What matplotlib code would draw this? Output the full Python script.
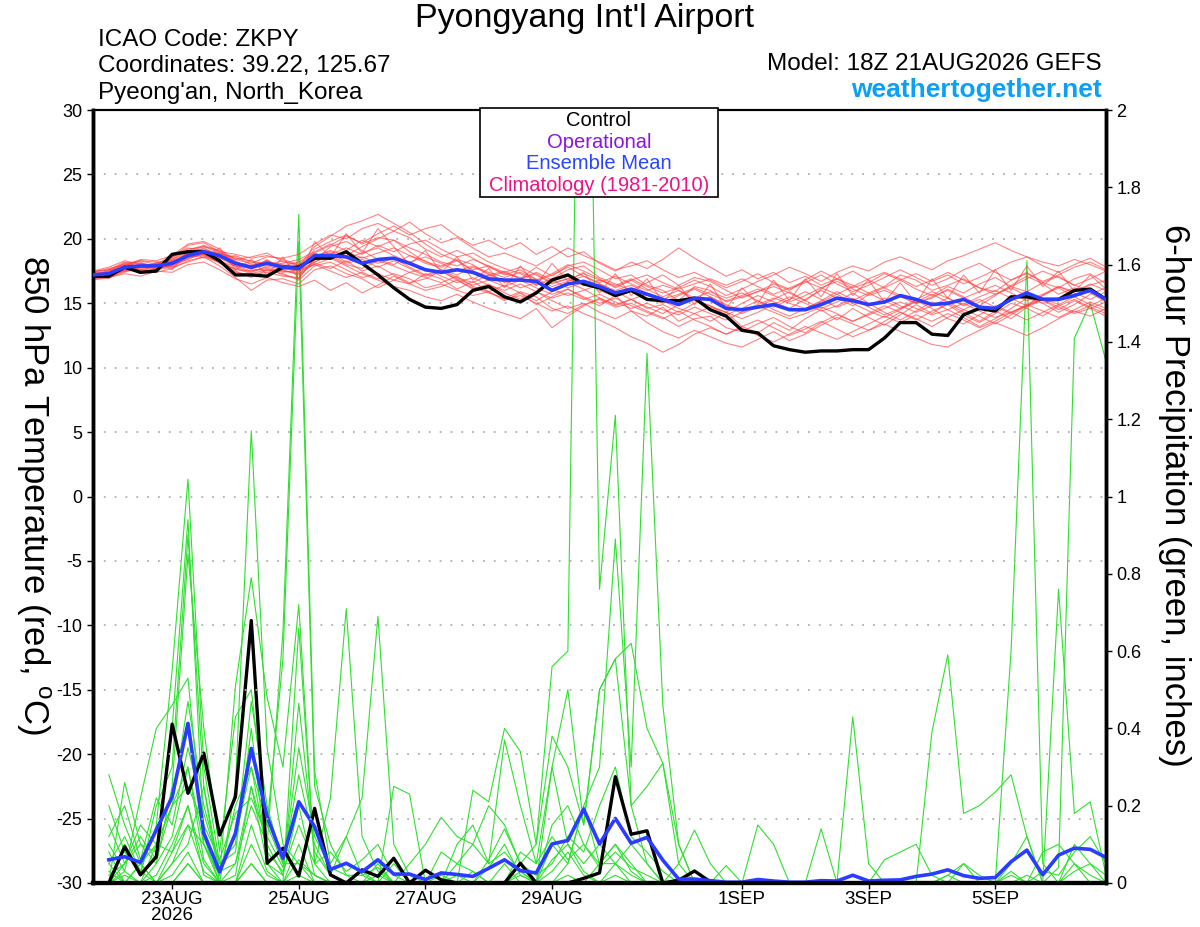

# GEFS meteogram: 850 hPa temperature and 6-hour precipitation, Pyongyang

import pandas as pd
import matplotlib
import matplotlib.pyplot as plt
from matplotlib.ticker import FuncFormatter, MultipleLocator
from matplotlib.patches import Rectangle

plt.rcParams['font.family'] = ['Liberation Sans', 'DejaVu Sans']
plt.rcParams['mathtext.fontset'] = 'custom'
plt.rcParams['mathtext.rm'] = 'Liberation Sans'
plt.rcParams['axes.unicode_minus'] = False

# 6-hourly valid times, 21AUG 18Z .. 6SEP 18Z
times = pd.date_range('2026-08-21 18:00', periods=65, freq='6h')
precip_times = times[1:]

# 850 hPa temperature (C)
temp_control = [17.1, 17.1, 17.8, 17.4, 17.5, 18.8, 19.0, 19.0, 18.3, 17.2, 17.2, 17.1, 17.8,
                17.8, 18.5, 18.5, 19.0, 18.1, 17.2, 16.2, 15.3, 14.7, 14.6, 14.9, 16.0, 16.3,
                15.5, 15.1, 15.8, 16.8, 17.2, 16.5, 16.2, 15.6, 16.0, 15.3, 15.2, 15.2, 15.4,
                14.5, 14.0, 12.9, 12.7, 11.7, 11.4, 11.2, 11.3, 11.3, 11.4, 11.4, 12.3, 13.5,
                13.5, 12.6, 12.5, 14.1, 14.6, 14.4, 15.5, 15.5, 15.3, 15.3, 16.0, 16.1, 15.3]
temp_mean = [17.2, 17.3, 17.8, 17.9, 17.9, 18.1, 18.7, 19.0, 18.7, 18.1, 17.8, 18.1, 17.8,
             17.7, 18.7, 18.7, 18.6, 18.1, 18.4, 18.5, 18.1, 17.6, 17.4, 17.6, 17.4, 16.9,
             16.8, 16.8, 16.7, 16.0, 16.5, 16.7, 16.3, 15.8, 16.1, 15.7, 15.3, 14.9, 15.4,
             15.3, 14.6, 14.5, 14.7, 14.9, 14.5, 14.5, 14.9, 15.4, 15.2, 14.9, 15.1, 15.6,
             15.3, 14.9, 15.0, 15.3, 14.7, 14.6, 15.3, 15.8, 15.3, 15.3, 15.6, 16.0, 15.3]

temp_members = [
    [17.0, 17.4, 18.1, 18.2, 17.6, 18.4, 19.2, 19.4, 18.9, 18.3, 17.6, 18.4, 17.5,
     17.4, 19.2, 19.8, 20.3, 19.6, 20.1, 19.9, 19.0, 18.2, 17.9, 18.4, 18.0, 17.2,
     17.5, 16.9, 17.8, 17.1, 17.9, 18.2, 17.6, 16.9, 17.2, 16.4, 16.0, 15.2, 16.3,
     16.0, 15.1, 15.5, 15.9, 16.3, 15.8, 15.2, 16.1, 16.9, 16.4, 15.8, 16.3, 17.2,
     16.8, 16.0, 16.4, 16.9, 16.2, 15.9, 16.8, 17.4, 16.6, 16.2, 16.9, 17.3, 16.5],
    [17.3, 17.1, 17.6, 17.7, 18.0, 17.8, 18.5, 18.8, 18.4, 17.5, 17.0, 17.6, 17.3,
     16.8, 17.9, 18.2, 17.6, 17.0, 17.3, 16.8, 16.5, 16.0, 16.3, 16.8, 16.2, 15.8,
     15.4, 15.9, 15.5, 14.6, 14.2, 14.9, 15.3, 14.7, 15.0, 14.4, 13.9, 13.2, 13.8,
     14.0, 13.1, 12.8, 13.4, 13.9, 13.2, 12.7, 13.5, 14.1, 13.6, 14.2, 14.8, 14.3,
     13.7, 14.4, 14.9, 14.1, 13.5, 14.2, 15.0, 14.6, 14.0, 14.8, 15.3, 14.7, 14.2],
    [17.4, 17.6, 18.2, 17.8, 18.1, 18.6, 19.3, 19.1, 18.5, 18.7, 18.2, 18.0, 18.3,
     17.9, 19.4, 20.2, 21.0, 21.4, 21.9, 21.2, 20.5, 19.6, 18.8, 18.3, 17.6, 17.9,
     17.2, 17.6, 16.8, 17.3, 18.0, 17.5, 16.9, 16.2, 16.8, 16.1, 15.5, 16.0, 15.2,
     14.8, 14.3, 15.0, 15.6, 15.1, 14.6, 15.3, 16.0, 15.4, 14.8, 15.7, 16.2, 15.6,
     15.0, 15.4, 16.1, 15.5, 14.8, 15.6, 16.4, 17.1, 16.5, 15.7, 16.2, 15.8, 15.1],
    [17.0, 17.2, 17.5, 17.6, 17.4, 17.7, 18.3, 18.6, 17.9, 17.0, 16.0, 16.8, 16.9,
     16.5, 17.6, 17.9, 17.3, 16.9, 16.2, 16.8, 17.4, 17.0, 16.6, 17.1, 16.3, 15.9,
     16.4, 15.8, 15.2, 15.9, 16.6, 16.1, 15.4, 14.8, 15.3, 14.6, 14.9, 14.3, 15.0,
     15.5, 14.8, 14.2, 14.7, 15.3, 15.9, 15.2, 14.6, 15.1, 15.8, 15.0, 14.3, 13.7,
     14.4, 15.1, 14.5, 13.9, 13.2, 13.8, 14.6, 15.4, 15.0, 14.3, 14.9, 15.7, 16.2],
    [17.5, 17.8, 18.3, 18.0, 17.8, 18.5, 19.5, 19.7, 19.0, 18.4, 18.6, 18.9, 18.2,
     18.0, 18.6, 19.1, 18.7, 19.4, 20.0, 20.6, 20.1, 19.2, 18.6, 19.1, 18.5, 17.8,
     17.3, 17.0, 16.4, 16.9, 17.6, 17.9, 17.0, 16.5, 16.0, 16.6, 17.2, 16.4, 17.0,
     16.7, 16.0, 15.4, 15.9, 16.5, 16.0, 16.8, 17.5, 16.9, 16.2, 16.6, 17.3, 16.8,
     16.1, 15.6, 16.3, 15.8, 16.5, 17.0, 16.3, 15.9, 16.6, 17.1, 16.4, 16.0, 15.4],
    [16.9, 17.0, 17.4, 17.9, 17.7, 18.0, 18.4, 18.9, 18.8, 17.8, 17.4, 17.9, 17.6,
     17.2, 18.1, 17.7, 18.3, 17.5, 17.9, 17.2, 16.6, 16.9, 17.5, 16.8, 16.1, 16.5,
     15.8, 15.3, 15.9, 15.2, 14.6, 15.0, 14.3, 13.8, 14.4, 13.5, 12.8, 12.3, 12.9,
     12.4, 11.9, 11.6, 12.2, 12.8, 12.1, 12.6, 13.3, 13.9, 13.4, 12.9, 13.6, 14.3,
     13.8, 13.2, 13.9, 14.5, 14.0, 13.4, 14.1, 14.8, 15.3, 14.7, 14.2, 14.6, 14.0],
    [17.2, 17.5, 17.9, 18.3, 18.2, 18.3, 18.9, 19.2, 18.8, 18.6, 18.0, 18.2, 17.9,
     18.2, 18.9, 18.4, 19.0, 18.5, 18.9, 19.3, 18.7, 18.1, 17.8, 18.3, 17.5, 17.1,
     17.4, 16.9, 17.3, 16.6, 16.9, 17.3, 16.8, 16.4, 16.9, 16.3, 15.8, 16.2, 16.8,
     16.3, 15.6, 16.1, 16.7, 17.2, 17.8, 17.3, 16.7, 17.4, 17.9, 17.5, 18.2, 18.6,
     18.1, 17.6, 18.3, 18.7, 19.2, 19.7, 19.1, 18.6, 18.2, 17.9, 18.4, 18.0, 17.5],
    [17.1, 17.3, 17.7, 17.6, 18.0, 18.2, 18.6, 18.7, 18.2, 17.9, 17.7, 17.5, 17.6,
     17.9, 18.3, 19.4, 19.8, 19.1, 18.4, 18.0, 18.7, 18.3, 17.6, 17.2, 17.8, 17.3,
     16.6, 16.9, 17.4, 16.8, 16.2, 16.6, 16.0, 15.5, 15.9, 15.4, 15.0, 15.6, 16.1,
     15.5, 14.9, 14.4, 14.9, 15.4, 15.0, 14.6, 15.2, 15.9, 15.3, 14.8, 15.4, 14.8,
     14.3, 14.8, 15.4, 14.9, 15.5, 16.0, 15.4, 14.8, 15.6, 16.3, 15.8, 15.3, 15.9],
    [17.4, 17.2, 17.6, 18.1, 17.9, 17.9, 18.8, 19.3, 18.6, 18.0, 17.8, 18.3, 17.7,
     17.5, 18.0, 18.5, 17.9, 17.3, 16.8, 16.3, 16.0, 15.5, 15.2, 15.7, 15.1, 14.6,
     14.2, 13.8, 14.6, 13.1, 14.0, 14.8, 15.4, 14.9, 15.3, 14.7, 14.2, 14.9, 15.3,
     14.8, 14.1, 14.6, 15.2, 14.5, 14.0, 14.6, 15.1, 15.7, 15.0, 14.4, 13.9, 14.5,
     15.2, 14.6, 13.8, 13.4, 14.1, 14.8, 14.3, 13.7, 14.3, 14.9, 15.5, 16.1, 15.4],
    [17.0, 17.6, 17.9, 18.4, 18.3, 18.7, 19.6, 19.8, 19.2, 18.4, 18.1, 18.6, 18.5,
     18.8, 19.6, 20.3, 20.0, 20.8, 21.2, 20.6, 21.3, 20.4, 19.7, 20.1, 19.3, 18.6,
     18.9, 18.4, 17.9, 18.6, 19.3, 18.7, 18.2, 17.6, 17.9, 18.3, 17.6, 17.0, 17.4,
     16.8, 16.2, 16.7, 17.3, 16.6, 16.1, 16.6, 17.2, 16.5, 15.9, 16.4, 17.0, 17.6,
     17.0, 16.4, 16.9, 17.6, 18.1, 17.4, 16.8, 17.3, 16.7, 17.2, 17.8, 18.2, 17.6],
    [17.3, 17.4, 17.8, 17.5, 17.6, 18.1, 18.9, 18.8, 18.3, 17.6, 17.5, 17.7, 17.2,
     16.9, 18.5, 18.9, 18.2, 18.6, 18.1, 18.5, 17.8, 17.2, 17.6, 17.0, 16.6, 17.2,
     16.8, 16.2, 16.6, 16.1, 15.6, 16.0, 16.5, 15.9, 15.3, 15.7, 15.2, 14.6, 14.2,
     14.7, 14.3, 13.8, 14.3, 14.9, 15.5, 15.0, 14.4, 14.8, 15.4, 14.7, 14.1, 14.6,
     15.3, 15.9, 15.4, 14.8, 15.3, 14.7, 14.2, 14.9, 15.6, 16.2, 15.5, 14.9, 14.4],
    [17.2, 17.0, 17.5, 17.8, 18.1, 18.4, 19.0, 19.4, 19.1, 18.2, 17.9, 18.1, 18.0,
     17.6, 18.2, 18.8, 19.3, 18.8, 19.5, 19.0, 19.6, 19.9, 19.2, 18.6, 18.9, 18.2,
     17.7, 17.3, 16.7, 17.2, 17.8, 17.1, 16.6, 17.1, 16.5, 16.0, 16.4, 16.0, 15.4,
     15.9, 15.4, 15.8, 15.2, 14.7, 15.3, 15.9, 15.3, 14.7, 15.2, 15.8, 15.2, 14.6,
     15.1, 15.7, 15.1, 14.5, 15.1, 15.7, 16.2, 15.6, 15.0, 15.4, 15.9, 16.4, 16.8],
    [17.1, 17.3, 17.6, 17.8, 17.7, 17.9, 18.5, 18.9, 18.5, 17.9, 17.5, 17.8, 17.4,
     17.6, 18.0, 17.5, 17.0, 17.4, 16.9, 17.3, 16.9, 16.2, 16.5, 16.0, 15.6, 15.9,
     15.3, 15.6, 15.0, 14.4, 14.8, 14.2, 13.7, 13.1, 12.4, 11.9, 11.2, 11.8, 12.6,
     13.1, 12.6, 13.2, 13.7, 13.1, 12.5, 13.0, 13.6, 13.0, 12.4, 12.9, 13.4, 12.8,
     12.3, 11.8, 11.6, 12.3, 12.9, 13.5, 13.0, 12.5, 13.1, 13.8, 14.4, 14.0, 14.6],
    [17.4, 17.7, 18.0, 18.1, 17.9, 18.3, 18.7, 19.0, 18.9, 18.5, 18.3, 18.0, 18.1,
     18.4, 19.0, 19.6, 19.1, 19.9, 19.4, 19.9, 19.3, 18.8, 18.2, 17.9, 18.4, 17.9,
     17.4, 17.8, 17.2, 16.5, 16.9, 16.4, 16.8, 16.3, 16.8, 17.2, 16.6, 16.1, 16.5,
     16.9, 16.4, 16.9, 16.3, 15.7, 16.2, 16.7, 16.2, 15.7, 16.3, 16.9, 17.4, 16.9,
     16.3, 16.8, 17.4, 16.8, 16.2, 15.7, 16.3, 16.9, 17.5, 17.0, 16.4, 16.9, 17.5],
    [16.9, 17.1, 17.8, 17.6, 17.6, 17.8, 18.2, 18.6, 18.2, 17.4, 17.2, 17.4, 17.1,
     17.0, 18.4, 18.6, 18.0, 17.7, 18.3, 17.9, 17.4, 17.7, 17.1, 16.6, 17.0, 16.4,
     16.0, 16.5, 15.9, 15.4, 15.8, 15.3, 15.7, 15.1, 14.6, 15.0, 14.5, 14.1, 14.7,
     14.2, 13.7, 14.3, 14.8, 14.3, 13.8, 14.2, 14.7, 14.2, 13.6, 14.1, 14.6, 15.1,
     14.6, 14.1, 14.5, 15.0, 14.4, 13.9, 14.3, 14.8, 15.4, 14.9, 14.3, 14.8, 15.4],
    [17.3, 17.5, 18.0, 17.9, 18.0, 18.2, 18.8, 19.1, 18.6, 18.0, 17.9, 18.3, 17.9,
     17.8, 18.7, 19.0, 18.5, 18.9, 19.3, 18.7, 18.2, 18.6, 18.1, 17.5, 17.9, 17.4,
     17.0, 17.4, 16.9, 16.3, 16.7, 17.1, 16.5, 16.0, 16.4, 15.8, 15.3, 15.7, 16.2,
     15.7, 15.2, 15.6, 16.1, 15.6, 15.1, 15.6, 16.2, 16.7, 16.1, 15.6, 16.0, 15.5,
     15.0, 15.5, 16.0, 15.4, 15.9, 16.4, 15.8, 15.2, 15.7, 16.3, 15.9, 16.5, 16.0],
    [17.2, 16.9, 17.9, 17.3, 18.2, 17.6, 19.1, 18.5, 19.3, 17.6, 18.4, 17.2, 18.6,
     16.9, 19.8, 18.6, 20.4, 18.9, 20.8, 19.4, 18.0, 19.1, 17.4, 18.6, 16.8, 17.7,
     16.2, 17.9, 16.4, 18.1, 16.7, 17.4, 15.8, 17.3, 15.6, 16.9, 15.1, 16.4, 14.9,
     16.5, 14.6, 16.2, 15.0, 16.8, 15.2, 16.9, 15.5, 17.3, 15.6, 16.8, 15.1, 16.6,
     15.0, 16.9, 15.4, 17.2, 15.8, 17.6, 16.0, 17.9, 16.3, 17.5, 15.9, 17.2, 16.1],
    [16.8, 17.0, 17.3, 17.1, 17.5, 17.4, 18.0, 18.2, 17.6, 16.9, 16.5, 17.0, 16.6,
     16.3, 16.8, 16.0, 16.6, 15.8, 16.4, 17.1, 16.5, 17.3, 16.9, 16.1, 16.7, 15.9,
     15.2, 15.8, 14.9, 15.5, 16.1, 15.4, 14.8, 15.6, 14.4, 14.0, 14.7, 13.6, 14.2,
     13.6, 14.3, 13.2, 12.7, 13.5, 12.9, 13.8, 14.5, 13.7, 14.6, 13.9, 13.3, 14.1,
     14.9, 14.2, 15.0, 14.3, 13.6, 14.4, 13.8, 14.7, 15.3, 14.5, 15.2, 14.6, 15.1],
    [17.5, 17.6, 18.1, 18.3, 18.0, 18.6, 19.1, 19.5, 19.0, 18.8, 18.5, 18.7, 18.4,
     18.0, 18.9, 19.5, 20.2, 19.7, 20.4, 21.0, 20.3, 20.8, 21.1, 20.2, 19.5, 19.9,
     19.2, 19.7, 18.8, 19.4, 18.6, 19.0, 18.1, 17.5, 18.2, 17.7, 18.4, 19.3, 18.5,
     17.8, 17.1, 17.6, 16.9, 17.4, 16.6, 17.1, 16.4, 16.9, 17.5, 16.8, 16.2, 16.8,
     17.3, 16.7, 17.2, 16.5, 17.0, 17.6, 18.2, 18.6, 17.9, 17.4, 18.0, 18.5, 17.8],
    [17.0, 17.3, 17.5, 17.8, 17.6, 18.0, 18.6, 18.8, 18.1, 17.7, 17.3, 17.6, 17.5,
     17.3, 18.2, 18.7, 18.1, 18.4, 17.8, 18.3, 17.7, 17.1, 17.5, 16.9, 16.4, 16.8,
     16.3, 16.8, 16.2, 15.7, 16.1, 15.5, 15.0, 15.4, 14.8, 14.3, 13.8, 14.4, 13.7,
     13.2, 12.6, 13.1, 12.5, 12.0, 12.6, 13.2, 12.7, 12.2, 12.8, 13.4, 14.0, 13.5,
     14.1, 13.6, 14.2, 13.7, 13.1, 13.6, 14.3, 14.9, 14.4, 13.9, 14.5, 15.1, 14.6],
]

# 6-hour precipitation (inches), valid 22AUG 00Z .. 6SEP 18Z
precip_control = [0.0, 0.094, 0.021, 0.068, 0.411, 0.232, 0.336, 0.124, 0.223, 0.679, 0.051, 0.09, 0.018, 0.193, 0.021, 0.0,
                  0.034, 0.017, 0.064, 0.0, 0.033, 0.008, 0.0, 0.0, 0.0, 0.0, 0.051, 0.0, 0.0, 0.0, 0.012, 0.026,
                  0.275, 0.126, 0.135, 0.0, 0.007, 0.031, 0.003, 0.0, 0.0, 0.0, 0.0, 0.0, 0.0, 0.0, 0.0, 0.0,
                  0.0, 0.0, 0.0, 0.0, 0.0, 0.0, 0.0, 0.0, 0.0, 0.0, 0.0, 0.0, 0.0, 0.0, 0.0, 0.0]
precip_mean = [0.06, 0.068, 0.053, 0.137, 0.223, 0.413, 0.129, 0.029, 0.129, 0.348, 0.172, 0.064, 0.21, 0.146, 0.035, 0.051,
               0.029, 0.06, 0.023, 0.023, 0.009, 0.026, 0.022, 0.017, 0.038, 0.06, 0.032, 0.026, 0.101, 0.11, 0.191, 0.101,
               0.167, 0.103, 0.118, 0.059, 0.01, 0.01, 0.006, 0.002, 0.002, 0.009, 0.005, 0.002, 0.002, 0.006, 0.005, 0.02,
               0.005, 0.007, 0.008, 0.017, 0.023, 0.034, 0.019, 0.012, 0.014, 0.055, 0.085, 0.021, 0.072, 0.09, 0.087, 0.066]

Z16 = [0.0] * 16
precip_members = [
    [0.05, 0.12, 0.03, 0.15, 0.55, 1.045, 0.30, 0.05, 0.10, 0.47, 0.20, 0.05, 0.28, 0.10, 0.02, 0.0]
    + [0.03, 0.0, 0.05, 0.0, 0.0, 0.02, 0.0, 0.0, 0.04, 0.10, 0.02, 0.0, 0.06, 0.10, 0.03, 0.0]
    + [0.05, 0.02, 0.0, 0.0, 0.0, 0.0, 0.0, 0.0, 0.0, 0.0, 0.0, 0.0, 0.0, 0.0, 0.0, 0.0]
    + [0.0, 0.0, 0.0, 0.0, 0.0, 0.0, 0.0, 0.0, 0.0, 0.02, 0.0, 0.0, 0.0, 0.03, 0.05, 0.02],
    [0.02, 0.05, 0.10, 0.08, 0.40, 0.94, 0.12, 0.0, 0.25, 1.17, 0.35, 0.10, 0.05, 0.02, 0.0, 0.0]
    + [0.0, 0.02, 0.0, 0.0, 0.0, 0.0, 0.0, 0.03, 0.0, 0.0, 0.0, 0.0, 0.0, 0.02, 0.0, 0.05]
    + [0.10, 0.03, 0.0, 0.0, 0.0, 0.0, 0.0, 0.0, 0.0, 0.0, 0.0, 0.0, 0.0, 0.0, 0.0, 0.0]
    + [0.0, 0.0, 0.0, 0.0, 0.0, 0.02, 0.0, 0.0, 0.0, 0.0, 0.0, 0.0, 0.0, 0.0, 0.0, 0.0],
    [0.20, 0.08, 0.02, 0.20, 0.30, 0.90, 0.25, 0.03, 0.05, 0.25, 0.10, 0.65, 1.73, 0.29, 0.05, 0.12]
    + [0.02, 0.0, 0.0, 0.0, 0.0, 0.0, 0.0, 0.0, 0.0, 0.0, 0.0, 0.0, 0.03, 0.08, 0.02, 0.0]
    + Z16 + Z16,
    [0.0, 0.26, 0.10, 0.05, 0.25, 0.85, 0.40, 0.08, 0.43, 0.50, 0.15, 0.58, 1.66, 0.25, 0.10, 0.02]
    + [0.0, 0.05, 0.0, 0.0, 0.0, 0.0, 0.0, 0.0, 0.0, 0.0, 0.02, 0.0, 0.0, 0.0, 0.0, 0.0]
    + [0.02, 0.0, 0.0, 0.0, 0.0, 0.0, 0.0, 0.0, 0.0, 0.0, 0.0, 0.0, 0.0, 0.0, 0.0, 0.0]
    + Z16,
    [0.10, 0.03, 0.22, 0.40, 0.46, 0.53, 0.10, 0.02, 0.51, 0.79, 0.48, 0.30, 0.72, 0.05, 0.22, 0.71]
    + [0.12, 0.03, 0.0, 0.0, 0.0, 0.0, 0.0, 0.0, 0.0, 0.0, 0.0, 0.0, 0.0, 0.0, 0.0, 0.0]
    + Z16 + Z16,
    [0.28, 0.15, 0.05, 0.10, 0.20, 0.47, 0.20, 0.05, 0.08, 0.40, 0.05, 0.02, 0.465, 0.08, 0.02, 0.12]
    + [0.22, 0.69, 0.10, 0.02, 0.0, 0.0, 0.0, 0.0, 0.0, 0.0, 0.05, 0.0, 0.0, 0.0, 0.0, 0.0]
    + Z16 + Z16,
    [0.0, 0.02, 0.0, 0.05, 0.12, 0.30, 0.06, 0.0, 0.0, 0.10, 0.02, 0.0, 0.06, 0.02, 0.0, 0.0]
    + [0.0, 0.0, 0.0, 0.0, 0.0, 0.0, 0.05, 0.10, 0.20, 0.15, 0.05, 0.10, 0.56, 0.60, 3.30, 0.76]
    + [1.21, 0.20, 0.05, 0.0, 0.0, 0.0, 0.0, 0.0, 0.0, 0.0, 0.0, 0.0, 0.0, 0.0, 0.0, 0.0]
    + Z16,
    [0.0, 0.0, 0.05, 0.0, 0.05, 0.10, 0.25, 0.0, 0.02, 0.25, 0.05, 0.0, 0.66, 0.05, 0.0, 0.0]
    + [0.0, 0.0, 0.25, 0.23, 0.0, 0.0, 0.0, 0.0, 0.0, 0.0, 0.0, 0.0, 0.0, 0.05, 0.20, 0.30]
    + [0.89, 0.30, 1.37, 0.46, 0.10, 0.0, 0.0, 0.0, 0.0, 0.0, 0.0, 0.0, 0.0, 0.0, 0.0, 0.0]
    + Z16,
    [0.05, 0.0, 0.0, 0.02, 0.10, 0.20, 0.05, 0.0, 0.0, 0.05, 0.0, 0.0, 0.10, 0.0, 0.0, 0.0]
    + [0.0, 0.0, 0.0, 0.0, 0.0, 0.0, 0.0, 0.24, 0.21, 0.40, 0.34, 0.10, 0.38, 0.30, 0.15, 0.50]
    + [0.58, 0.62, 0.40, 0.31, 0.10, 0.0, 0.0, 0.0, 0.0, 0.0, 0.0, 0.0, 0.0, 0.0, 0.0, 0.0]
    + [0.0, 0.0, 0.0, 0.0, 0.0, 0.0, 0.0, 0.0, 0.0, 0.60, 1.61, 0.05, 0.0, 0.0, 0.0, 0.0],
    [0.0, 0.10, 0.03, 0.0, 0.05, 0.15, 0.10, 0.02, 0.20, 0.30, 0.15, 0.05, 0.05, 0.0, 0.0, 0.0]
    + Z16
    + [0.0, 0.0, 0.0, 0.0, 0.05, 0.137, 0.05, 0.0, 0.0, 0.0, 0.0, 0.0, 0.0, 0.0, 0.0, 0.0]
    + [0.0, 0.0, 0.0, 0.0, 0.0, 0.0, 0.0, 0.0, 0.0, 0.0, 0.02, 0.0, 0.04, 1.41, 1.50, 1.35],
    [0.03, 0.0, 0.0, 0.0, 0.08, 0.15, 0.03, 0.0, 0.0, 0.15, 0.03, 0.0, 0.0, 0.0, 0.0, 0.0]
    + [0.0, 0.0, 0.0, 0.0, 0.0, 0.0, 0.0, 0.0, 0.0, 0.05, 0.0, 0.0, 0.30, 0.50, 0.15, 0.50]
    + [0.58, 0.20, 0.25, 0.31, 0.05, 0.0, 0.0, 0.0, 0.0, 0.0, 0.0, 0.0, 0.0, 0.0, 0.0, 0.0]
    + [0.0, 0.0, 0.0, 0.0, 0.39, 0.59, 0.18, 0.20, 0.235, 0.28, 0.12, 0.0, 0.0, 0.0, 0.0, 0.0],
    [0.0, 0.0, 0.05, 0.0, 0.0, 0.05, 0.0, 0.0, 0.0, 0.0, 0.0, 0.0, 0.02, 0.0, 0.0, 0.0]
    + [0.0, 0.0, 0.0, 0.0, 0.0, 0.0, 0.10, 0.15, 0.05, 0.37, 0.20, 0.05, 0.30, 0.10, 0.05, 0.10]
    + [0.05, 0.0, 0.0, 0.0, 0.0, 0.0, 0.0, 0.045, 0.0, 0.15, 0.10, 0.0, 0.0, 0.0, 0.0, 0.43]
    + [0.05, 0.0, 0.0, 0.0, 0.0, 0.0, 0.0, 0.0, 0.0, 0.0, 0.0, 0.0, 0.76, 0.18, 0.21, 0.02],
    [0.0, 0.03, 0.0, 0.10, 0.20, 0.30, 0.10, 0.0, 0.05, 0.20, 0.10, 0.02, 0.20, 0.02, 0.0, 0.0]
    + [0.0, 0.0, 0.0, 0.0, 0.0, 0.0, 0.0, 0.0, 0.0, 0.0, 0.03, 0.0, 0.15, 0.20, 0.10, 0.05]
    + [0.10, 0.05, 0.0, 0.0, 0.0, 0.0, 0.0, 0.0, 0.0, 0.0, 0.0, 0.0, 0.0, 0.14, 0.0, 0.0]
    + [0.0, 0.06, 0.08, 0.10, 0.02, 0.0, 0.05, 0.02, 0.0, 0.0, 0.0, 0.0, 0.0, 0.10, 0.05, 0.0],
    [0.08, 0.0, 0.0, 0.0, 0.02, 0.08, 0.0, 0.0, 0.0, 0.05, 0.0, 0.0, 0.0, 0.0, 0.0, 0.0]
    + [0.0, 0.0, 0.0, 0.05, 0.10, 0.17, 0.12, 0.10, 0.05, 0.08, 0.03, 0.0, 0.10, 0.05, 0.20, 0.05]
    + [0.05, 0.10, 0.05, 0.0, 0.0, 0.0, 0.0, 0.0, 0.0, 0.0, 0.0, 0.0, 0.0, 0.0, 0.0, 0.0]
    + [0.0, 0.0, 0.0, 0.0, 0.0, 0.02, 0.05, 0.0, 0.0, 0.03, 0.0, 0.08, 0.10, 0.05, 0.0, 0.0],
    [0.15, 0.05, 0.15, 0.10, 0.08, 0.20, 0.02, 0.0, 0.0, 0.0, 0.0, 0.0, 0.0, 0.0, 0.0, 0.0]
    + Z16 + Z16
    + [0.0, 0.0, 0.0, 0.0, 0.0, 0.0, 0.0, 0.0, 0.0, 0.05, 0.12, 0.0, 0.0, 0.05, 0.02, 0.0],
    [0.0, 0.0, 0.0, 0.0, 0.0, 0.05, 0.0, 0.0, 0.0, 0.0, 0.0, 0.0, 0.0, 0.0, 0.0, 0.0]
    + Z16 + Z16 + Z16,
    [0.12, 0.20, 0.06, 0.22, 0.15, 0.35, 0.18, 0.04, 0.12, 0.30, 0.08, 0.03, 0.15, 0.05, 0.08, 0.03]
    + [0.06, 0.10, 0.02, 0.0, 0.0, 0.08, 0.05, 0.03, 0.0, 0.0, 0.08, 0.05, 0.12, 0.06, 0.10, 0.04]
    + [0.08, 0.04, 0.02, 0.0, 0.0, 0.0, 0.0, 0.0, 0.0, 0.0, 0.0, 0.0, 0.0, 0.0, 0.0, 0.0]
    + [0.0, 0.0, 0.0, 0.0, 0.0, 0.0, 0.0, 0.0, 0.0, 0.0, 0.0, 0.03, 0.02, 0.08, 0.12, 0.05],
    [0.0, 0.05, 0.12, 0.06, 0.20, 0.25, 0.15, 0.06, 0.18, 0.22, 0.12, 0.04, 0.35, 0.12, 0.04, 0.02]
    + [0.02, 0.04, 0.0, 0.0, 0.0, 0.0, 0.02, 0.0, 0.06, 0.14, 0.05, 0.02, 0.05, 0.12, 0.08, 0.20]
    + [0.30, 0.12, 0.08, 0.03, 0.0, 0.0, 0.0, 0.0, 0.0, 0.0, 0.0, 0.0, 0.0, 0.0, 0.0, 0.0]
    + Z16,
]

tick_dates = ['2026-08-23', '2026-08-25', '2026-08-27', '2026-08-29',
              '2026-09-01', '2026-09-03', '2026-09-05']
tick_labels = ['23AUG\n2026', '25AUG', '27AUG', '29AUG', '1SEP', '3SEP', '5SEP']

fig = plt.figure(figsize=(12, 9.27), dpi=100)
ax = fig.add_axes([0.0775, 0.0475, 0.8442, 0.8338])
ax2 = ax.twinx()
ax.set_zorder(ax2.get_zorder() + 1)
ax.patch.set_visible(False)

# precipitation (right axis)
for m in precip_members:
    ax2.plot(precip_times, m, color='#2ee02e', lw=0.8, zorder=2)
ax2.plot(precip_times, precip_control, color='black', lw=2.4, zorder=4)
ax2.plot(precip_times, precip_mean, color='#2a3cff', lw=2.6, zorder=5)

# temperature (left axis)
for m in temp_members:
    ax.plot(times, m, color='#ff4040', lw=0.8, alpha=0.65, zorder=2)
ax.plot(times, temp_control, color='black', lw=2.4, zorder=4)
ax.plot(times, temp_mean, color='#2a3cff', lw=2.6, zorder=5)

ax.set_xlim(times[0], times[-1])
ax.set_ylim(-30, 30)
ax2.set_ylim(0, 2)
ax.yaxis.set_major_locator(MultipleLocator(5))
ax2.yaxis.set_major_locator(MultipleLocator(0.2))
ax2.yaxis.set_major_formatter(FuncFormatter(lambda v, p: '%g' % round(v, 1)))
ax.grid(axis='y', color='#b0b0b0', linestyle=(0, (1, 5)), lw=1.3)

ax.set_xticks(pd.to_datetime(tick_dates))
ax.set_xticklabels(tick_labels, fontsize=13.5, linespacing=0.95)
ax.tick_params(axis='x', length=4, width=1, pad=1.5)
ax.tick_params(axis='y', labelsize=13, length=4, width=1)
ax2.tick_params(axis='y', labelsize=13, length=4, width=1)

for a in (ax, ax2):
    a.spines['left'].set_linewidth(2.5)
    a.spines['right'].set_linewidth(2.5)
    a.spines['bottom'].set_linewidth(3)
    a.spines['top'].set_linewidth(1.5)

# header text
fig.text(0.4875, 0.980, "Pyongyang Int'l Airport", ha='center', va='center', fontsize=24.5)
fig.text(0.0817, 0.957, 'ICAO Code: ZKPY', ha='left', va='center', fontsize=17.5)
fig.text(0.0817, 0.929, 'Coordinates: 39.22, 125.67', ha='left', va='center', fontsize=17.5)
fig.text(0.0817, 0.900, "Pyeong'an, North_Korea", ha='left', va='center', fontsize=17.5)
fig.text(0.9183, 0.931, 'Model: 18Z 21AUG2026 GEFS', ha='right', va='center', fontsize=17.5)
fig.text(0.9183, 0.903, 'weathertogether.net', ha='right', va='center', fontsize=19,
         fontweight='bold', color='#0ba0f5')

fig.text(0.028, 0.466, r'850 hPa Temperature (red, $^{\mathrm{o}}$C)', rotation=270,
         ha='center', va='center', fontsize=25)
fig.text(0.979, 0.466, '6-hour Precipitation (green, inches)', rotation=270,
         ha='center', va='center', fontsize=25)

# legend box
fig.patches.append(Rectangle((0.400, 0.7875), 0.198, 0.096, transform=fig.transFigure,
                             facecolor='white', edgecolor='black', lw=1.2, zorder=10))
legend_items = [('Control', 'black'), ('Operational', '#8c14dc'),
                ('Ensemble Mean', '#2846ff'), ('Climatology (1981-2010)', '#ee1285')]
for k, (txt, col) in enumerate(legend_items):
    fig.text(0.499, 0.8695 - k * 0.0231, txt, color=col, ha='center', va='center',
             fontsize=14.5, zorder=11)

plt.savefig('out.png', dpi=100)
